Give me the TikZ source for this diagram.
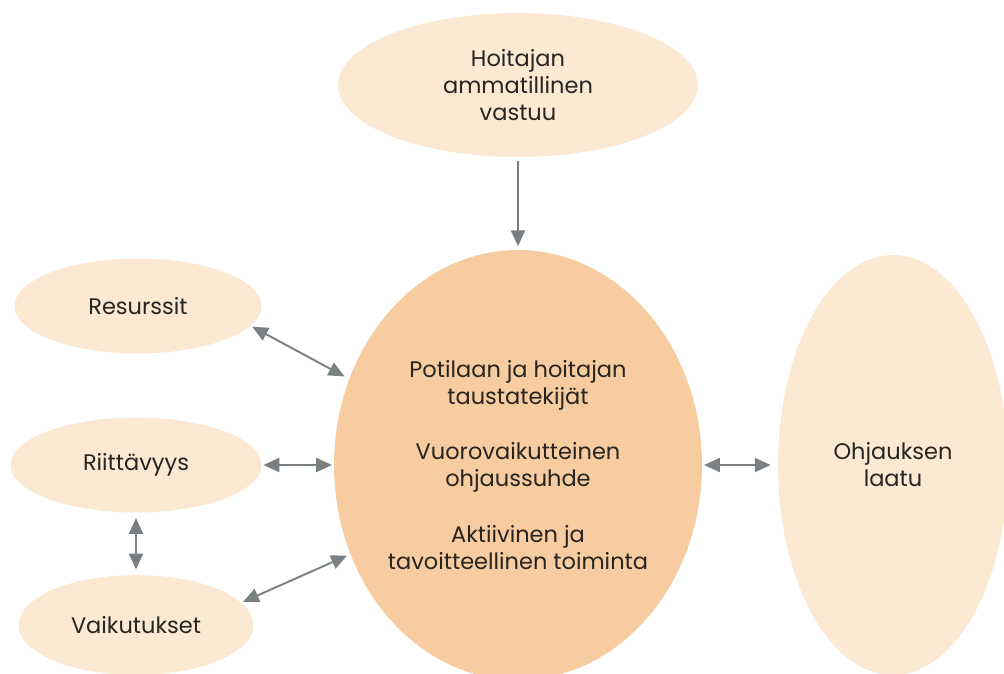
\documentclass[tikz,border=0pt]{standalone}
\usepackage{fontspec}
\setmainfont{Poppins}
\usetikzlibrary{shapes.geometric,arrows.meta}

\definecolor{paleorange}{RGB}{251,233,212}
\definecolor{midorange}{RGB}{246,204,160}
\definecolor{arrowgray}{RGB}{122,127,130}
\definecolor{inkbrown}{RGB}{40,36,32}

\begin{document}
\begin{tikzpicture}[x=0.02cm,y=-0.02cm,
    bubble/.style={ellipse, fill=paleorange, inner sep=0pt, align=center,
      text=inkbrown, font=\fontsize{12.8}{15.4}\selectfont},
    core/.style={bubble, fill=midorange},
    link/.style={draw=arrowgray, line width=1.1pt, {Triangle[length=9pt,width=8pt]}-{Triangle[length=9pt,width=8pt]}},
    onelink/.style={draw=arrowgray, line width=1.1pt, -{Triangle[length=9pt,width=8pt]}}]
  \useasboundingbox (0,0) rectangle (1004,673);
  \clip (0,0) rectangle (1004,673);

  % ellipses
  \node[bubble, minimum width=7.2cm, minimum height=2.88cm] (vastuu) at (518,85)
    {Hoitajan\\ammatillinen\\vastuu};
  \node[core, minimum width=7.36cm, minimum height=8.6cm] (suhde) at (518,465)
    {Potilaan ja hoitajan\\taustatekijät\\[0.56cm]Vuorovaikutteinen\\ohjaussuhde\\[0.56cm]Aktiivinen ja\\tavoitteellinen toiminta};
  \node[bubble, minimum width=4.94cm, minimum height=1.9cm] (resurssit) at (138,306) {Resurssit};
  \node[bubble, minimum width=5.02cm, minimum height=1.9cm] (riittavyys) at (136,465) {Riittävyys};
  \node[bubble, minimum width=4.7cm, minimum height=2cm] (vaikutukset) at (136,625) {Vaikutukset};
  \node[bubble, minimum width=4.6cm, minimum height=8.4cm] (laatu) at (893,465) {Ohjauksen\\laatu};

  % connectors
  \draw[onelink, shorten <=2pt, shorten >=2pt] (vastuu.south) -- (suhde.north);
  \draw[link, shorten <=1pt, shorten >=3pt] (resurssit.-10) -- (suhde.153);
  \draw[link, shorten <=1pt, shorten >=1pt] (riittavyys.east) -- (suhde.west);
  \draw[link, shorten <=3pt, shorten >=3pt] (riittavyys.south) -- (vaikutukset.north);
  \draw[link, shorten <=1pt, shorten >=2pt] (vaikutukset.12) -- (suhde.-152);
  \draw[link, shorten <=1pt, shorten >=4pt] (suhde.east) -- (laatu.west);
\end{tikzpicture}
\end{document}
